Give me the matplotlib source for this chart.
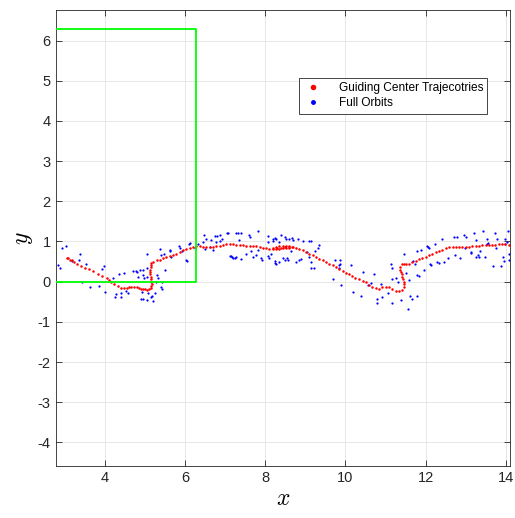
import numpy as np
import matplotlib.pyplot as plt

# guiding-centre trajectory samples
gc_x = [3.05, 3.09, 3.13, 3.17, 3.23, 3.30, 3.40, 3.50, 3.60, 3.71, 3.82, 3.92, 4.04, 4.10,
        4.15, 4.23, 4.32, 4.41, 4.48, 4.54, 4.60, 4.66, 4.72, 4.79, 4.85, 4.90, 4.95, 5.00,
        5.05, 5.09, 5.14, 5.16, 5.17, 5.16, 5.15, 5.14, 5.13, 5.12, 5.13, 5.14, 5.15, 5.16,
        5.20, 5.29, 5.37, 5.45, 5.53, 5.62, 5.70, 5.78, 5.87, 5.95, 6.03, 6.11, 6.20, 6.28,
        6.36, 6.45, 6.53, 6.61, 6.69, 6.78, 6.86, 6.94, 7.03, 7.11, 7.19, 7.28, 7.36,
        7.44, 7.53, 7.61, 7.69, 7.77, 7.86, 7.94, 8.02, 8.10, 8.18, 8.27, 8.35, 8.44, 8.52,
        8.60, 8.66, 8.60, 8.52, 8.44, 8.35, 8.27, 8.20, 8.30, 8.40, 8.50, 8.60, 8.68, 8.77,
        8.85, 8.93, 9.02, 9.10, 9.18, 9.27, 9.35, 9.43, 9.51, 9.60, 9.68,
        9.76, 9.85, 9.93, 10.01, 10.08, 10.16, 10.24, 10.33, 10.43, 10.51, 10.59, 10.67,
        10.76, 10.84, 10.92, 11.01, 11.09, 11.17, 11.26, 11.34, 11.42, 11.46, 11.46, 11.45,
        11.44, 11.42, 11.40, 11.38, 11.36, 11.37, 11.40, 11.46, 11.51, 11.59, 11.67, 11.75,
        11.84, 11.92, 12.00, 12.08, 12.17, 12.25, 12.33, 12.42, 12.50, 12.58, 12.67, 12.75,
        12.83, 12.91, 13.00, 13.08, 13.16, 13.25, 13.33, 13.41, 13.50, 13.58, 13.66, 13.74,
        13.83, 13.91, 13.99, 14.07]
gc_y = [0.60, 0.58, 0.55, 0.53, 0.49, 0.45, 0.39, 0.35, 0.32, 0.26, 0.19, 0.14, 0.08, 0.04,
        0.00, -0.05, -0.10, -0.15, -0.16, -0.15, -0.13, -0.12, -0.12, -0.14, -0.16, -0.17, -0.19, -0.19,
        -0.20, -0.19, -0.16, -0.11, -0.05, 0.00, 0.06, 0.12, 0.18, 0.24, 0.30, 0.37, 0.42, 0.47,
        0.49, 0.53, 0.55, 0.58, 0.62, 0.64, 0.67, 0.70, 0.74, 0.78, 0.81, 0.84, 0.87, 0.88,
        0.89, 0.87, 0.87, 0.86, 0.87, 0.88, 0.90, 0.92, 0.93, 0.93, 0.93, 0.92, 0.91,
        0.91, 0.90, 0.90, 0.89, 0.88, 0.86, 0.84, 0.83, 0.82, 0.81, 0.81, 0.82, 0.83, 0.84,
        0.85, 0.87, 0.89, 0.90, 0.89, 0.88, 0.87, 0.85, 0.84, 0.85, 0.86, 0.87, 0.87, 0.84,
        0.81, 0.78, 0.74, 0.70, 0.66, 0.62, 0.57, 0.53, 0.48, 0.44, 0.41,
        0.36, 0.31, 0.26, 0.22, 0.19, 0.14, 0.10, 0.06, 0.01, -0.02, -0.07, -0.12,
        -0.15, -0.17, -0.14, -0.13, -0.14, -0.19, -0.22, -0.23, -0.21, -0.13, -0.06, 0.00,
        0.06, 0.12, 0.18, 0.24, 0.30, 0.36, 0.43, 0.44, 0.44, 0.45, 0.49, 0.51,
        0.56, 0.59, 0.62, 0.66, 0.70, 0.74, 0.77, 0.80, 0.84, 0.87, 0.87, 0.87,
        0.87, 0.86, 0.86, 0.87, 0.88, 0.89, 0.90, 0.91, 0.91, 0.91, 0.92, 0.92,
        0.93, 0.93, 0.93, 0.92]

# full-orbit samples
fo_x = [2.92, 3.04, 2.84, 2.89, 3.19, 3.35, 3.38, 3.53, 3.42, 3.62, 3.85, 3.92, 3.98, 4.00,
        4.21, 4.27, 4.36, 4.41, 4.47, 4.52, 4.58, 4.70, 4.77, 4.81, 4.83, 4.88, 4.98, 5.04,
        4.93, 4.90, 5.06, 5.18, 4.25, 4.39, 5.05, 4.95, 4.95, 5.04, 5.29, 5.33, 5.27, 5.43,
        5.41, 5.08, 5.16, 5.24, 4.95, 5.20, 5.43, 5.49,
        5.37, 5.39, 5.47, 5.62, 5.63, 5.66, 5.85, 5.88, 5.93, 6.03, 6.05, 6.10, 6.11, 6.24,
        6.32, 6.45, 6.46, 6.49, 6.53, 6.61, 6.65, 6.69, 6.75, 6.78, 6.79, 6.86, 6.86, 6.93,
        7.04, 7.07,
        7.13, 7.18, 7.24, 7.28, 7.34, 7.32, 7.40, 7.59, 7.63, 7.81, 8.06, 8.19, 8.24, 8.20,
        8.27, 8.33, 8.39, 8.48, 8.52, 8.60, 8.67, 8.68, 8.81, 8.93, 9.08, 9.13, 9.35, 9.31,
        9.25, 7.15, 7.19, 7.28, 7.40, 7.52, 7.64, 7.69, 7.77, 7.81, 7.89, 8.06, 8.10, 8.15,
        8.23, 8.27, 8.35, 8.44, 8.48, 8.54, 8.56, 8.65, 8.77, 8.85, 8.89, 9.03, 9.10, 9.13,
        9.14, 9.22, 7.92, 8.06, 8.25,
        9.75, 9.86, 9.85, 9.87, 9.85, 9.70, 9.89, 10.14, 10.20, 10.39, 10.44, 10.55, 10.63,
        10.72, 10.78, 10.79, 10.91, 10.88, 11.07, 11.13, 11.17, 11.17, 11.26, 11.30, 11.16,
        11.38, 11.45, 11.51,
        11.59, 11.57, 11.60, 11.65, 11.78, 11.69, 11.74, 11.79, 11.88, 11.79, 11.84, 11.96,
        12.04, 12.08, 12.07, 12.13, 12.10, 12.23, 12.29, 12.33, 12.46, 12.42, 12.56, 12.71,
        12.77, 12.73, 12.85, 12.96, 13.00, 12.98, 13.12, 13.14, 13.20, 13.25, 13.31, 13.33,
        13.35, 13.25, 13.44, 13.54, 13.56, 13.49, 13.53, 13.68, 13.74, 13.78, 13.76, 13.89,
        13.93, 13.95, 13.99, 14.03, 14.07, 14.06, 13.98, 14.07]
fo_y = [0.84, 0.88, 0.41, 0.33, 0.52, 0.54, 0.68, 0.45, -0.01, -0.14, -0.10, 0.31, 0.39, -0.25,
        0.10, -0.30, 0.18, -0.38, 0.22, -0.23, -0.29, 0.26, 0.27, 0.24, 0.12, 0.30, 0.09, 0.68,
        -0.25, -0.44, -0.45, -0.35, -0.38, -0.29, 0.33, 0.29, 0.16, 0.12, 0.16, 0.08, -0.02, 0.00,
        -0.13, -0.29, -0.38, -0.29, -0.42, -0.49, -0.19, 0.29,
        0.81, 0.66, 0.68, 0.78, 0.76, 0.62, 0.89, 0.83, 0.76, 0.53, 0.52, 0.93, 0.97, 0.83,
        0.95, 0.99, 1.16, 0.81, 1.07, 0.87, 1.03, 0.78, 1.13, 0.99, 1.14, 1.01, 1.17, 1.06,
        1.20, 1.20,
        0.64, 0.61, 0.58, 1.20, 1.03, 1.22, 1.22, 1.16, 1.11, 1.26, 1.14, 1.07, 1.09, 1.01,
        1.06, 0.99, 1.16, 1.11, 1.07, 1.06, 1.09, 1.03, 1.06, 1.01, 1.01, 1.01, 0.91, 0.83,
        0.77, 0.64, 0.58, 0.62, 0.56, 0.70, 0.76, 0.62, 0.66, 0.78, 0.58, 0.64, 0.60, 0.68,
        0.51, 0.45, 0.49, 0.58, 0.53, 0.58, 0.53, 0.76, 0.49, 0.53, 0.56, 0.74, 0.62, 0.48,
        0.34, 0.33, 0.53, 0.99, 0.47,
        0.55, 0.55, 0.41, 0.44, 0.33, 0.07, -0.09, 0.41, -0.25, -0.35, 0.24, -0.09, -0.03,
        0.19, -0.44, -0.54, -0.38, -0.06, -0.28, 0.45, 0.33, -0.54, 0.08, 0.00, 0.06,
        -0.46, 0.68, 0.22,
        0.05, -0.67, -0.35, -0.42, -0.35, 0.52, 0.45, 0.77, 0.78, 0.16, 0.14, 0.30,
        0.88, 0.83, 0.87, 0.41, 0.45, 0.93, 0.49, 0.47, 0.49, 1.05, 0.58, 1.11,
        1.10, 0.66, 0.58, 1.16, 1.10, 0.83, 0.74, 0.72, 1.22, 0.62, 0.66, 0.62,
        0.76, 1.04, 1.26, 1.07, 0.97, 0.62, 0.95, 0.39, 1.20, 1.05, 0.83, 0.39,
        0.62, 0.52, 1.05, 0.99, 0.70, 1.26, 0.93, 0.53]

# periodic cell outline
cell_x = [0, 2 * np.pi, 2 * np.pi, 0, 0]
cell_y = [0, 0, 2 * np.pi, 2 * np.pi, 0]

plt.rcParams['font.family'] = ['Liberation Sans', 'DejaVu Sans']
plt.rcParams['mathtext.fontset'] = 'cm'
plt.rcParams['axes.unicode_minus'] = False

fig = plt.figure(figsize=(5.15, 5.18), dpi=100)
ax = fig.add_axes([0.108, 0.100, 0.882, 0.880])

ax.plot(gc_x, gc_y, 'o', color='red', markersize=1.8, markeredgewidth=0,
        label='Guiding Center Trajecotries', zorder=3)
ax.plot(fo_x, fo_y, 'o', color='blue', markersize=1.6, markeredgewidth=0,
        label='Full Orbits', zorder=2)
ax.plot(cell_x, cell_y, color='#00ff00', linewidth=1.3, zorder=4)

ax.set_xlim(2.77, 14.1)
ax.set_ylim(-4.59, 6.75)
ax.set_xticks(np.arange(4, 15, 2))
ax.set_yticks(np.arange(-4, 7, 1))

ax.grid(True, color='#e3e3e3', linewidth=0.6)
ax.set_axisbelow(True)
ax.tick_params(direction='in', top=True, right=True, length=4, width=0.6,
               color='#262626', labelcolor='#262626', labelsize=10.5)
for sp in ax.spines.values():
    sp.set_color('#262626')
    sp.set_linewidth(0.6)

ax.set_xlabel('$x$', fontsize=17, labelpad=2)
ax.set_ylabel('$y$', fontsize=17, labelpad=2)

leg = ax.legend(loc='upper left', bbox_to_anchor=(0.535, 0.851), fontsize=8.6,
                frameon=True, fancybox=False, framealpha=1, edgecolor='#262626',
                markerscale=2.2, handletextpad=1.3, borderpad=0.35, labelspacing=0.25,
                handlelength=1.7, borderaxespad=0)
leg.get_frame().set_linewidth(0.6)

fig.savefig('out.png', dpi=100)
